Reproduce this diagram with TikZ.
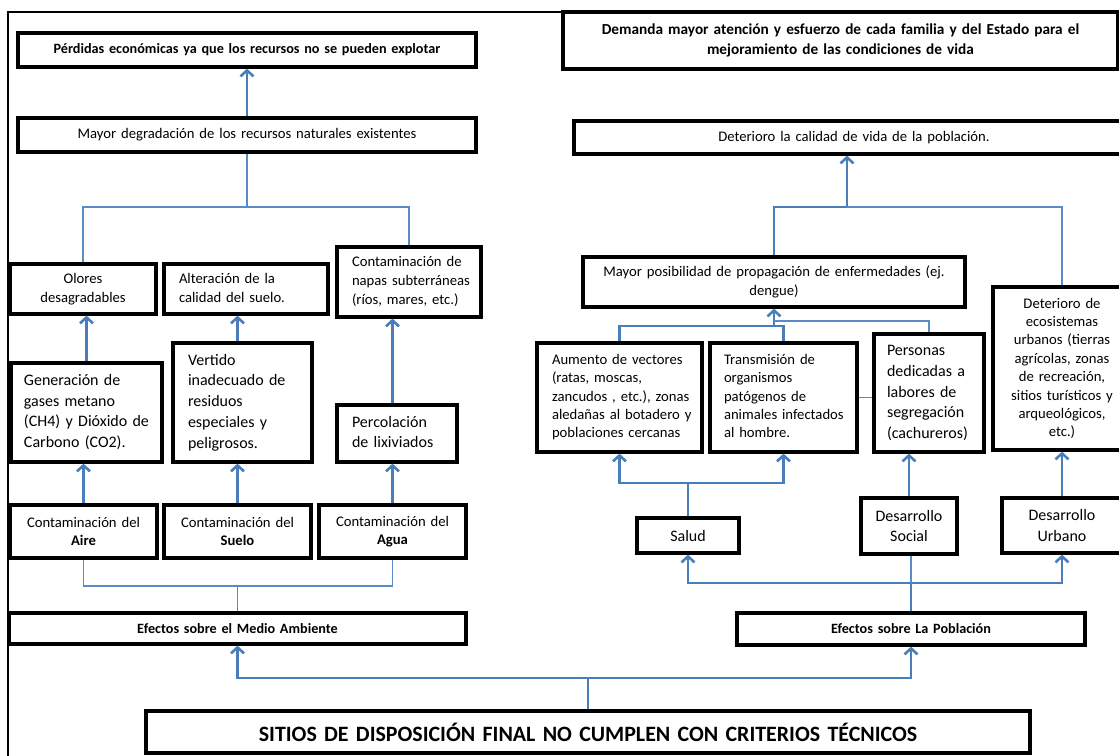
\documentclass[tikz,border=0pt]{standalone}
\usepackage{fontspec}
\setmainfont{Carlito}
\usetikzlibrary{arrows.meta}
\definecolor{thkc}{HTML}{4A7EBB}
\definecolor{thnc}{HTML}{5B8BC6}
\tikzset{
  box/.style={draw=black, line width=3.2pt, fill=white, rectangle, inner ysep=0pt, inner xsep=4pt},
  fs/.style={font=\fontsize{14.67pt}{19pt}\selectfont},
  fsm/.style={font=\fontsize{14.67pt}{18.4pt}\selectfont},
  fl/.style={font=\fontsize{16pt}{20.7pt}\selectfont},
  fb/.style={font=\bfseries\fontsize{14.2pt}{20pt}\selectfont},
  fbl/.style={font=\bfseries\fontsize{15.3pt}{20pt}\selectfont},
  fh/.style={font=\bfseries\fontsize{21.9pt}{24pt}\selectfont},
  thk/.style={draw=thkc, line width=2.6pt},
  thn/.style={draw=thnc, line width=1.3pt},
  arr/.style={thk, -{Straight Barb[length=6pt,width=13pt]}},
}
\newcommand\mybox[7]{%
  \pgfmathsetmacro\bw{#4-#2}\pgfmathsetmacro\bh{#5-#3}%
  \pgfmathsetmacro\tw{#4-#2-8}\pgfmathsetmacro\cx{(#2+#4)/2}\pgfmathsetmacro\cy{(#3+#5)/2}%
  \node[box,#6,align=center,minimum width=\bw pt,minimum height=\bh pt,text width=\tw pt] (#1) at (\cx,\cy) {#7};}
\newcommand\myboxl[8]{%
  \pgfmathsetmacro\bw{#4-#2}\pgfmathsetmacro\bh{#5-#3}%
  \pgfmathsetmacro\tw{#4-#2-8}\pgfmathsetmacro\cx{(#2+#4)/2}\pgfmathsetmacro\cy{(#3+#5)/2}%
  \node[box,#7,align=left,minimum width=\bw pt,minimum height=\bh pt,text width=\tw pt] (#1) at (\cx,\cy) {\hspace*{#6pt}\begin{tabular}{@{}l@{}}#8\end{tabular}};}
\begin{document}
\begin{tikzpicture}[x=1pt,y=-1pt]
\path[use as bounding box, fill=white] (0,0) rectangle (1119,755);
% outer frame
\draw[line width=2pt] (7.5,760) -- (7.5,12) -- (563,12);

% ---- left side
\mybox{P1}{18}{33}{476}{67}{fb}{Pérdidas económicas ya que los recursos no se pueden explotar}
\mybox{P2}{18}{118}{476}{152}{fs}{Mayor degradación de los recursos naturales existentes}
\mybox{Ol}{10}{264}{156}{314}{fs}{Olores\\desagradables}
\myboxl{Al}{164}{264}{328}{314}{11}{fs}{Alteración de la\\calidad del suelo.}
\myboxl{Na}{337}{247}{481}{317}{11}{fs}{Contaminación de\\napas subterráneas\\(ríos, mares, etc.)}
\myboxl{Ge}{11}{363}{162}{462}{9}{fl}{Generación de\\gases metano\\(CH4) y Dióxido de\\Carbono (CO2).}
\myboxl{Ve}{173}{343}{312}{462}{11}{fl}{Vertido\\inadecuado de\\residuos\\especiales y\\peligrosos.}
\myboxl{Pe}{337}{405}{457}{462}{11}{fl}{Percolación\\de lixiviados}
\mybox{CA}{10}{505}{157}{558}{fsm}{Contaminación del\\\textbf{Aire}}
\mybox{CS}{164}{505}{311}{558}{fsm}{Contaminación del\\\textbf{Suelo}}
\mybox{CW}{319}{505}{466}{558}{fsm}{Contaminación del\\\textbf{Agua}}
\mybox{EM}{9}{613}{466}{644}{fb}{Efectos sobre el Medio Ambiente}
\mybox{SI}{146}{711}{1030}{753}{fh}{SITIOS DE DISPOSICIÓN FINAL NO CUMPLEN CON CRITERIOS TÉCNICOS}

% ---- right side
\mybox{DM}{563}{12}{1118}{69}{fbl}{Demanda mayor atención y esfuerzo de cada familia y del Estado para el\\mejoramiento de las condiciones de vida}
\mybox{DC}{574}{121}{1134}{154}{fs}{Deterioro la calidad de vida de la población.}
\mybox{MP}{583}{257}{965}{307}{fs}{Mayor posibilidad de propagación de enfermedades (ej.\\dengue)}
\myboxl{Au}{537}{343}{702}{452}{11}{fsm}{Aumento de vectores\\(ratas, moscas,\\zancudos , etc.), zonas\\aledañas al botadero y\\poblaciones cercanas}
\myboxl{Tr}{710}{343}{857}{452}{10}{fsm}{Transmisión de\\organismos\\patógenos de\\animales infectados\\al hombre.}
\myboxl{PS}{874}{334}{984}{452}{9}{fl}{Personas\\dedicadas a\\labores de\\segregación\\(cachureros)}
\mybox{DE}{993}{287}{1131}{450}{fsm}{Deterioro de\\ecosistemas\\urbanos (tierras\\agrícolas, zonas\\de recreación,\\sitios turísticos y\\arqueológicos,\\etc.)}
\mybox{SA}{637}{518}{739}{553}{fl}{Salud}
\mybox{SO}{861}{498}{957}{554}{fl}{Desarrollo\\Social}
\mybox{UR}{1002}{498}{1122}{553}{fl}{Desarrollo\\Urbano}
\mybox{EP}{737}{613}{1085}{645}{fb}{Efectos sobre La Población}

% junction levels
\coordinate (hA) at (0,207);
\coordinate (hB) at (0,586);
\coordinate (hC) at (0,678);
\coordinate (hD) at (0,583);
\coordinate (hE) at (0,483);
\coordinate (hF) at (0,326);
\coordinate (hG) at (0,321);
\coordinate (aH) at (847,207);

% ---- left connectors
\draw[arr] (P2.north) -- (P1.south);
\draw[thn] (P2.south) -- (P2.south |- hA);
\draw[thn] (Ol.north) -- (Ol.north |- hA) -- (Na.north |- hA) -- (Na.north);
\draw[arr] (Ge.north) -- (Ge.north |- Ol.south);
\draw[arr] (CS.north |- Ve.north) -- (CS.north |- Al.south);
\draw[arr] (CW.north |- Pe.north) -- (CW.north |- Na.south);
\draw[arr] (CA.north) -- (CA.north |- Ge.south);
\draw[arr] (CS.north) -- (CS.north |- Ve.south);
\draw[arr] (CW.north) -- (CW.north |- Pe.south);
\draw[thn] (CA.south) -- (CA.south |- hB) -- (CW.south |- hB) -- (CW.south);
\draw[thn] (EM.north) -- (EM.north |- hB);

% ---- bottom
\draw[thk] (SI.north) -- (SI.north |- hC);
\draw[arr] (SI.north |- hC) -| (EM.south);
\draw[arr] (SI.north |- hC) -| (EP.south);

% ---- right connectors
\draw[thk] (EP.north) -- (EP.north |- hD);
\draw[arr] (EP.north |- hD) -| (SA.south);
\draw[arr] (EP.north |- hD) -| (UR.south);
\draw[thn] (SO.south -| EP.north) -- (EP.north |- hD);
\draw[thk] (SA.north) -- (SA.north |- hE);
\draw[arr] (SA.north |- hE) -| (Au.south);
\draw[arr] (SA.north |- hE) -| (Tr.south);
\draw[arr] (SO.north) -- (SO.north |- PS.south);
\draw[arr] (UR.north) -- (UR.north |- DE.south);
\draw[thk] (Au.north) -- (Au.north |- hF) -- (Tr.north |- hF) -- (Tr.north);
\draw[arr] (MP.south |- hF) -- (MP.south);
\draw[thn] (MP.south |- hG) -| (PS.north);
\draw[thn] (Tr.east) -- (Tr.east -| PS.west);
\draw[thk] (MP.north) |- (aH);
\draw[arr] (aH) -- (aH |- DC.south);
\draw[thn] (aH) -| (DE.north);
\end{tikzpicture}
\end{document}
